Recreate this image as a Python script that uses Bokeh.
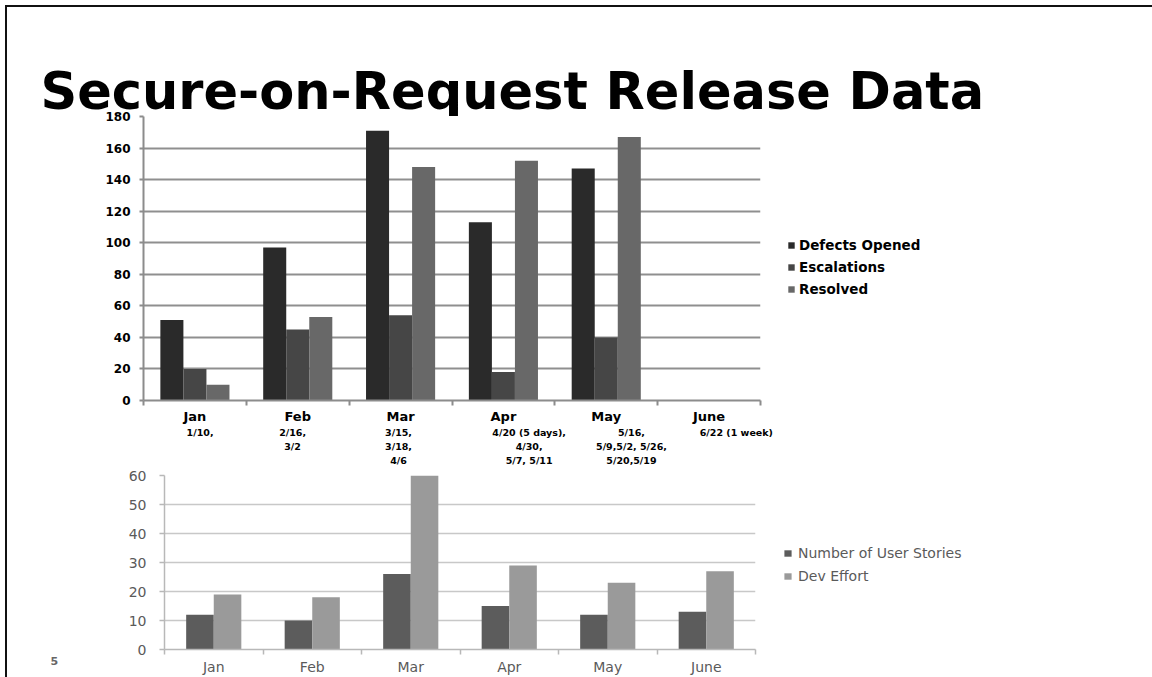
from bokeh.plotting import figure
from bokeh.models import (ColumnDataSource, Range1d, LinearAxis, FixedTicker,
                          Legend, LegendItem)
from bokeh.core.properties import value
from bokeh.transform import dodge
from bokeh.layouts import column, row
from bokeh.embed import file_html
from bokeh.resources import INLINE

# ---- data -------------------------------------------------------------
months = ["Jan", "Feb", "Mar", "Apr", "May", "June"]

defects_opened = [51, 97, 171, 113, 147, 0]
escalations = [20, 45, 54, 18, 40, 0]
resolved = [10, 53, 148, 152, 167, 0]

release_dates = [
    "1/10,",
    "2/16,\n3/2",
    "3/15,\n3/18,\n4/6",
    "4/20 (5 days),\n4/30,\n5/7, 5/11",
    "5/16,\n5/9,5/2, 5/26,\n5/20,5/19",
    "6/22 (1 week)",
]

user_stories = [12, 10, 26, 15, 12, 13]
dev_effort = [19, 18, 60, 29, 23, 27]

top_ticks = [0, 20, 40, 60, 80, 100, 120, 140, 160, 180]
bottom_ticks = [0, 10, 20, 30, 40, 50, 60]

title_text = "Secure-on-Request Release Data"
slide_number = "5"

top_series = ["Defects Opened", "Escalations", "Resolved"]
top_fields = ["defects", "escalations", "resolved"]
top_colors = ["#2a2a2a", "#464646", "#686868"]
bottom_series = ["Number of User Stories", "Dev Effort"]
bottom_fields = ["stories", "effort"]
bottom_colors = ["#5c5c5c", "#9a9a9a"]

# horizontal nudge (in month slots) of each release-date block
note_shift = [0.05, -0.05, -0.02, 0.25, 0.245, 0.265]

# ---- shared helpers ---------------------------------------------------
# each month occupies one unit slot on the x scale: slot centre at i + 0.5
n = len(months)
slot_centers = [i + 0.5 for i in range(n)]
slot_edges = [float(i) for i in range(n + 1)]

BOLD_FONT = "DejaVu Sans"
LIGHT_FONT = "DejaVu Sans"


def label_axis(p, ticks, labels, font, size, weight, color, standoff,
               line_color=None, line_width=1, edge_ticks=False, line_height=1.2):
    ax = LinearAxis(ticker=FixedTicker(ticks=ticks,
                                       minor_ticks=slot_edges if edge_ticks else []),
                    major_label_overrides={t: s for t, s in zip(ticks, labels)})
    ax.axis_line_color = line_color
    ax.axis_line_width = line_width
    ax.major_tick_out = 0
    ax.major_tick_in = 0
    ax.minor_tick_out = 5 if edge_ticks else 0
    ax.minor_tick_in = 0
    ax.minor_tick_line_color = line_color if edge_ticks else None
    ax.minor_tick_line_width = line_width
    ax.major_label_text_font = font
    ax.major_label_text_font_size = size
    ax.major_label_text_font_style = weight
    ax.major_label_text_color = color
    ax.major_label_text_line_height = line_height
    ax.major_label_standoff = standoff
    p.add_layout(ax, "below")
    return ax


def chart_figure(width, height, y_end, left, right, top_b, bottom_b):
    p = figure(width=width, height=height,
               x_range=Range1d(0, n), y_range=Range1d(0, y_end),
               x_axis_type=None,
               output_backend="svg", toolbar_location=None,
               min_border_left=left, min_border_right=right,
               min_border_top=top_b, min_border_bottom=bottom_b)
    p.frame_align = False
    p.outline_line_color = None
    p.background_fill_alpha = 0
    p.border_fill_alpha = 0
    return p


def blank_figure(width, height, x_end, y_start, y_end):
    p = figure(width=width, height=height,
               x_range=Range1d(0, x_end), y_range=Range1d(y_start, y_end),
               x_axis_type=None, y_axis_type=None,
               output_backend="svg", toolbar_location=None, min_border=0)
    p.frame_align = False
    p.outline_line_color = None
    p.grid.visible = False
    p.background_fill_alpha = 0
    p.border_fill_alpha = 0
    return p


def legend_panel(width, height, source, names, fields, colors, loc, font, size,
                 weight, color, gw, gh, lh, standoff):
    # key renderers share the chart's data but stay hidden; only the key is shown
    p = blank_figure(width, height, 1, 0, 1)
    items = []
    for name, field, c in zip(names, fields, colors):
        r = p.vbar(x="pos", top=field, width=0.1, source=source,
                   fill_color=c, line_color=None, visible=False)
        items.append(LegendItem(label=name, renderers=[r]))
    lg = Legend(items=items, location=loc)
    lg.glyph_width = gw
    lg.glyph_height = gh
    lg.label_height = lh
    lg.spacing = 1
    lg.padding = 0
    lg.margin = 0
    lg.label_standoff = standoff
    lg.border_line_color = None
    lg.background_fill_alpha = 0
    lg.inactive_fill_alpha = 0
    lg.label_text_font = font
    lg.label_text_font_style = weight
    lg.label_text_font_size = size
    lg.label_text_color = color
    p.add_layout(lg)
    return p


# ---- heading ----------------------------------------------------------
heading = blank_figure(1145, 109, 1145, 109, 0)
heading.text(x=[33], y=[84], text=[title_text],
             text_font=value(BOLD_FONT), text_font_style="bold",
             text_font_size=value("51px"),
             text_color="black", text_align="left", text_baseline="middle")

# ---- upper chart: defects / escalations / resolved --------------------
top_src = ColumnDataSource(dict(pos=slot_centers, defects=defects_opened,
                                escalations=escalations, resolved=resolved))

top = chart_figure(773, 361, 180, 136, 20, 8, 69)

bw = 0.224
for field, c, shift in zip(top_fields, top_colors, [-bw, 0, bw]):
    top.vbar(x=dodge("pos", shift), top=field, width=bw,
             source=top_src, fill_color=c, line_color=None)

ya = top.yaxis[0]
ya.ticker = FixedTicker(ticks=top_ticks)
ya.axis_line_color = "#8c8c8c"
ya.axis_line_width = 2
ya.major_tick_line_color = "#8c8c8c"
ya.major_tick_line_width = 2
ya.major_tick_out = 4
ya.major_tick_in = 0
ya.minor_tick_line_color = None
ya.major_label_text_font = BOLD_FONT
ya.major_label_text_font_style = "bold"
ya.major_label_text_font_size = "12px"
ya.major_label_text_color = "black"
ya.major_label_standoff = 9

top.ygrid.grid_line_color = "#8f8f8f"
top.ygrid.grid_line_width = 2

label_axis(top, slot_centers, months, BOLD_FONT, "13px", "bold", "black", 3,
           line_color="#8c8c8c", line_width=2, edge_ticks=True)

# release dates listed under each month
note_ticks = [c + s for c, s in zip(slot_centers, note_shift)]
label_axis(top, note_ticks, release_dates, BOLD_FONT, "9.5px", "bold", "black", 0,
           line_height=1.3)

top_key = legend_panel(372, 361, top_src, top_series, top_fields, top_colors, (7, 170),
                       BOLD_FONT, "13.5px", "bold", "black", 8, 8, 21, 4)

# ---- lower chart: user stories / dev effort ---------------------------
bot_src = ColumnDataSource(dict(pos=slot_centers, stories=user_stories, effort=dev_effort))

bot = chart_figure(668, 208, 60, 57, 20, 6, 26)

bw2 = 0.28
for field, c, shift in zip(bottom_fields, bottom_colors, [-bw2 / 2, bw2 / 2]):
    bot.vbar(x=dodge("pos", shift), top=field, width=bw2,
             source=bot_src, fill_color=c, line_color=None)

yb = bot.yaxis[0]
yb.ticker = FixedTicker(ticks=bottom_ticks)
yb.axis_line_color = "#b8b8b8"
yb.axis_line_width = 1.5
yb.major_tick_line_color = "#b8b8b8"
yb.major_tick_line_width = 1.5
yb.major_tick_out = 5
yb.major_tick_in = 0
yb.minor_tick_line_color = None
yb.major_label_text_font = LIGHT_FONT
yb.major_label_text_font_size = "14px"
yb.major_label_text_color = "#5a5a5a"
yb.major_label_standoff = 13

bot.ygrid.grid_line_color = "#c8c8c8"
bot.ygrid.grid_line_width = 1.5

label_axis(bot, slot_centers, months, LIGHT_FONT, "14px", "normal", "#5a5a5a", 4,
           line_color="#b8b8b8", line_width=1.5, edge_ticks=True)

bot_key = legend_panel(377, 208, bot_src, bottom_series, bottom_fields, bottom_colors,
                       (8, 90), LIGHT_FONT, "14px", "normal", "#5a5a5a", 9, 8, 22, 6)

# slide number in the lower-left margin
corner = blank_figure(100, 208, 100, 208, 0)
corner.text(x=[43], y=[191], text=[slide_number],
            text_font=value(BOLD_FONT), text_font_style="bold",
            text_font_size=value("11px"), text_color="#666666",
            text_align="left", text_baseline="middle")

# ---- page -------------------------------------------------------------
page = column(heading,
              row(top, top_key, spacing=0, margin=(-8, 0, 0, 0)),
              row(corner, bot, bot_key, spacing=0),
              spacing=0, margin=(5, 0, 0, 5),
              styles={"border-top": "2px solid #111111",
                      "border-left": "2px solid #111111",
                      "background-color": "white"})

with open("out.html", "w") as f:
    f.write(file_html(page, INLINE))
